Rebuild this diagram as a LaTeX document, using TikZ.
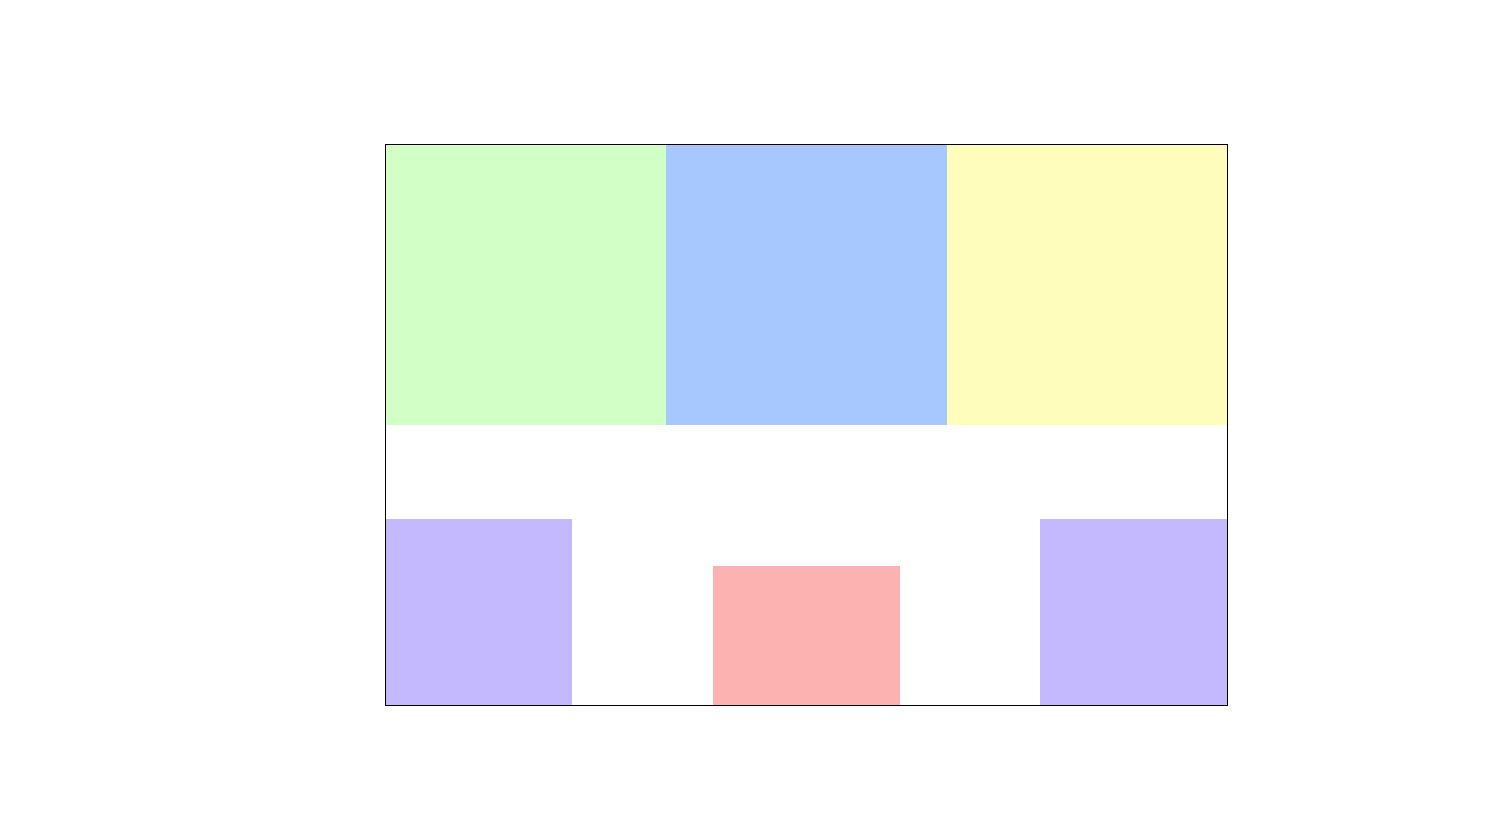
\documentclass[tikz,border=0pt]{standalone}
\definecolor{cgreen}{RGB}{210,255,198}
\definecolor{cblue}{RGB}{166,200,255}
\definecolor{cyellow}{RGB}{255,253,187}
\definecolor{cpurple}{RGB}{196,184,255}
\definecolor{cred}{RGB}{253,178,178}
\begin{document}
\begin{tikzpicture}[x=1pt,y=-1pt,
  tile/.style={draw=none}]
\useasboundingbox (0,0) rectangle (1502,815);
\fill[cgreen]  (385,144) rectangle (666,425);
\fill[cblue]   (666,144) rectangle (946.5,425);
\fill[cyellow] (946.5,144) rectangle (1227,425);
\fill[cpurple] (385,519) rectangle (572,705);
\fill[cred]    (713,566) rectangle (899.5,705);
\fill[cpurple] (1040,519) rectangle (1227,705);
\draw[black,line width=1pt] (385,144) rectangle (1227,705);
\end{tikzpicture}
\end{document}
